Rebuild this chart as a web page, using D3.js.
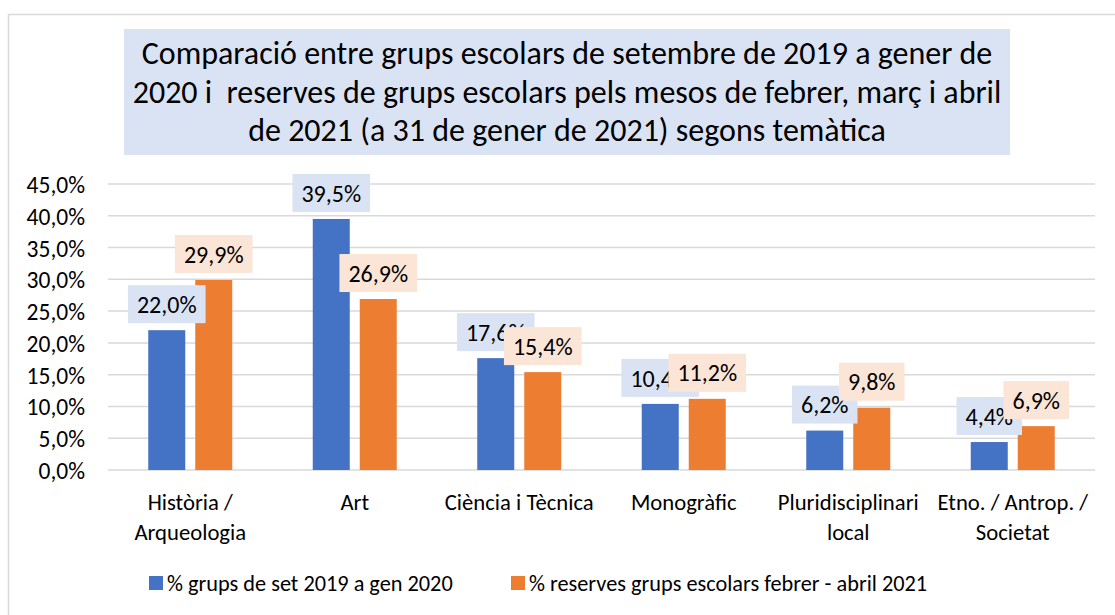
<!DOCTYPE html>
<html><head><meta charset="utf-8">
<script src="https://cdn.jsdelivr.net/npm/d3@7"></script>
<style>
html,body{margin:0;padding:0;background:#fff;}
svg{display:block;font-family:Carlito, Calibri, Lato, "Open Sans", sans-serif;}
.pre{white-space:pre;}
</style></head>
<body>
<svg id="chart" width="1115" height="615"></svg>
<script>
const titleLines = [
  "Comparació entre grups escolars de setembre de 2019 a gener de",
  "2020 i  reserves de grups escolars pels mesos de febrer, març i abril",
  "de 2021 (a 31 de gener de 2021) segons temàtica"
];
const categories = ["Història /\nArqueologia", "Art", "Ciència i Tècnica", "Monogràfic", "Pluridisciplinari\nlocal", "Etno. / Antrop. /\nSocietat"];
const seriesNames = ["% grups de set 2019 a gen 2020", "% reserves grups escolars febrer - abril 2021"];
const series1 = [22.0, 39.5, 17.6, 10.4, 6.2, 4.4];
const series2 = [29.9, 26.9, 15.4, 11.2, 9.8, 6.9];
const yTicks = [0, 5, 10, 15, 20, 25, 30, 35, 40, 45];

const colors = ["#4472C4", "#ED7D31"];
const labelFills = ["#DAE3F3", "#FBE5D6"];
const fmt = v => v.toFixed(1).replace(".", ",") + "%";

const svg = d3.select("#chart");

// outer border
svg.append("rect").attr("x", 8.5).attr("y", 14.5).attr("width", 1130).attr("height", 630)
  .attr("fill", "none").attr("stroke", "#d9d9d9").attr("stroke-width", 1.5);

const plot = {left: 108, right: 1095, top: 184, bottom: 470};
const x = d3.scaleBand().domain(categories).range([plot.left, plot.right]);
const x1 = d3.scaleBand().domain([0, 1]).range([-42, 42]).paddingInner(10 / 47);
const y = d3.scaleLinear().domain([0, 45]).range([plot.bottom, plot.top]);

// gridlines
svg.append("g").selectAll("line").data(yTicks).join("line")
  .attr("x1", plot.left).attr("x2", plot.right)
  .attr("y1", d => y(d)).attr("y2", d => y(d))
  .attr("stroke", "#d9d9d9").attr("stroke-width", 1.5);

// y axis labels
const yAxis = d3.axisLeft(y).tickValues(yTicks).tickSize(0).tickPadding(0).tickFormat(fmt);
const yg = svg.append("g").attr("transform", `translate(${85},0)`).call(yAxis);
yg.select(".domain").remove();
yg.attr("font-family", null).attr("font-size", null);
yg.selectAll("text").attr("font-size", 23.5).attr("fill", "#000").attr("dy", "0.36em");

// bars
const data = categories.map((c, i) => ({cat: c, vals: [series1[i], series2[i]]}));
const groups = svg.append("g").selectAll("g").data(data).join("g")
  .attr("transform", d => `translate(${x(d.cat) + x.bandwidth() / 2},0)`);
groups.selectAll("rect").data(d => d.vals.map((v, k) => ({v, k}))).join("rect")
  .attr("x", d => x1(d.k)).attr("width", x1.bandwidth())
  .attr("y", d => y(d.v)).attr("height", d => y(0) - y(d.v))
  .attr("fill", d => colors[d.k]);

// data labels (blue first, orange on top)
const labelLayer = svg.append("g");
[0, 1].forEach(k => {
  data.forEach(d => {
    const cx = x(d.cat) + x.bandwidth() / 2 + x1(k) + x1.bandwidth() / 2;
    const v = d.vals[k];
    const g = labelLayer.append("g");
    const t = g.append("text").text(fmt(v)).attr("font-size", 24).attr("text-anchor", "middle")
      .attr("x", cx).attr("y", y(v) - 7 - 19).attr("dy", "0.36em").attr("fill", "#000");
    const w = t.node().getComputedTextLength();
    g.insert("rect", "text").attr("x", cx - w / 2 - 9).attr("width", w + 18)
      .attr("y", y(v) - 7 - 38).attr("height", 38).attr("fill", labelFills[k]);
  });
});

// x labels
const xl = svg.append("g");
categories.forEach(c => {
  const lines = c.split("\n");
  const cx = x(c) + x.bandwidth() / 2;
  const t = xl.append("text").attr("text-anchor", "middle").attr("font-size", 22.7)
    .attr("x", cx).attr("y", 502).attr("fill", "#000");
  lines.forEach((ln, i) => t.append("tspan").attr("x", cx)
    .attr("y", 502 + i * 30).attr("dy", "0.36em").text(ln));
});

// title
svg.append("rect").attr("x", 124).attr("y", 29).attr("width", 886).attr("height", 126).attr("fill", "#DAE3F3");
svg.append("g").selectAll("text").data(titleLines).join("text")
  .attr("class", "pre")
  .attr("x", 567).attr("y", (d, i) => 64 + i * 38.5).attr("text-anchor", "middle")
  .attr("font-size", 32).attr("fill", "#000").text(d => d);

// legend
const legX = [149, 511];
const lg = svg.append("g");
seriesNames.forEach((n, k) => {
  lg.append("rect").attr("x", legX[k]).attr("y", 576).attr("width", 14).attr("height", 14).attr("fill", colors[k]);
  lg.append("text").attr("x", legX[k] + 18).attr("y", 583).attr("dy", "0.36em")
    .attr("font-size", 22.3).attr("fill", "#000").text(n);
});
</script>
</body></html>
